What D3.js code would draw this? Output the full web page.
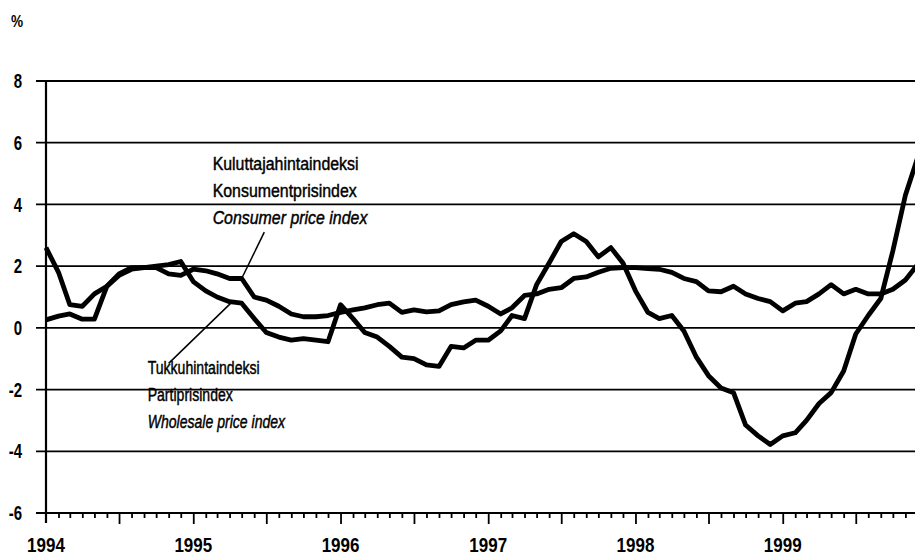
<!DOCTYPE html>
<html>
<head>
<meta charset="utf-8">
<script src="https://cdn.jsdelivr.net/npm/d3@7"></script>
<style>
  body { margin: 0; background: #fff; }
  svg { display: block; }
  text { font-family: "Liberation Sans", Arial, sans-serif; fill: #000; }
</style>
</head>
<body>
<div id="chart"></div>
<script>
// monthly values, Jan 1994 .. Dec 1999 (12-month change, %)
const startYear = 1994;
const cpi = [
  0.26, 0.38, 0.45, 0.28, 0.28, 1.35, 1.7, 1.9, 1.95, 1.95, 1.75, 1.7,
  1.9, 1.85, 1.75, 1.6, 1.6, 1.0, 0.9, 0.7, 0.45, 0.36, 0.36, 0.4,
  0.5, 0.58, 0.65, 0.75, 0.8, 0.5, 0.58, 0.52, 0.55, 0.75, 0.84, 0.9,
  0.7, 0.45, 0.65, 1.05, 1.1, 1.25, 1.3, 1.6, 1.65, 1.8, 1.93, 1.95,
  1.95, 1.92, 1.9, 1.8, 1.6, 1.5, 1.2, 1.17, 1.35, 1.1, 0.95, 0.85,
  0.55, 0.8, 0.85, 1.1, 1.4, 1.1, 1.25, 1.1, 1.1, 1.25, 1.55, 2.05
];
const wpi = [
  2.6, 1.8, 0.75, 0.7, 1.1, 1.35, 1.75, 1.95, 1.95, 2.0, 2.05, 2.15,
  1.5, 1.2, 1.0, 0.85, 0.8, 0.3, -0.15, -0.3, -0.4, -0.35, -0.4, -0.45,
  0.75, 0.3, -0.15, -0.3, -0.6, -0.95, -1.0, -1.2, -1.25, -0.6, -0.65, -0.4,
  -0.4, -0.1, 0.4, 0.3, 1.4, 2.1, 2.8, 3.05, 2.8, 2.3, 2.6, 2.1,
  1.2, 0.5, 0.3, 0.4, -0.1, -0.95, -1.55, -1.95, -2.1, -3.15, -3.5, -3.78,
  -3.5, -3.4, -3.0, -2.45, -2.1, -1.4, -0.2, 0.4, 0.95, 2.5, 4.3, 5.5
];
const yTicks = [8, 6, 4, 2, 0, -2, -4, -6];
const yearLabels = ["1994", "1995", "1996", "1997", "1998", "1999"];
const cpiLabel = ["Kuluttajahintaindeksi", "Konsumentprisindex", "Consumer price index"];
const wpiLabel = ["Tukkuhintaindeksi", "Partiprisindex", "Wholesale price index"];

const width = 915, height = 555;
const margin = { top: 81, left: 46, bottom: 42 };

const svg = d3.select("#chart").append("svg")
  .attr("width", width)
  .attr("height", height);

const x = d3.scaleTime()
  .domain([new Date(startYear, 0, 1), new Date(startYear + 6, 0, 1)])
  .range([margin.left, 930]);

const y = d3.scaleLinear()
  .domain([-6, 8])
  .range([height - margin.bottom, margin.top]);

const month = i => new Date(startYear, i, 1);

// horizontal grid lines (also the ticks left of the axis)
svg.append("g")
  .selectAll("line")
  .data(yTicks)
  .join("line")
    .attr("x1", margin.left - 10)
    .attr("x2", width)
    .attr("y1", d => y(d))
    .attr("y2", d => y(d))
    .attr("stroke", "#000")
    .attr("stroke-width", d => d === -6 ? 2.2 : 1.8);

svg.append("g")
  .selectAll("text")
  .data(yTicks)
  .join("text")
    .attr("transform", d => `translate(22,${y(d)}) scale(0.75,1)`)
    .attr("dy", "0.36em")
    .attr("text-anchor", "end")
    .attr("font-size", 20)
    .attr("font-weight", "bold")
    .text(d => d);

svg.append("text")
  .attr("transform", "translate(11,27) scale(0.8,1)")
  .attr("font-size", 17)
  .attr("font-weight", "bold")
  .text("%");

// y axis line
svg.append("line")
  .attr("x1", margin.left).attr("x2", margin.left)
  .attr("y1", y(8)).attr("y2", y(-6) + 10)
  .attr("stroke", "#000")
  .attr("stroke-width", 2.2);

// month ticks on the bottom axis
const months = d3.range(1, 72).map(month);
const xAxis = d3.axisBottom(x)
  .tickValues(months)
  .tickSize(5)
  .tickFormat("");

const gx = svg.append("g")
  .attr("transform", `translate(0,${y(-6)})`)
  .call(xAxis);
gx.select(".domain").remove();
gx.selectAll(".tick line")
  .attr("stroke-width", 1.8)
  .attr("y2", d => d.getMonth() % 6 === 0 ? 11 : 5);

svg.append("g")
  .selectAll("text")
  .data(yearLabels)
  .join("text")
    .attr("transform", d => `translate(${x(new Date(+d, 0, 1))},552) scale(0.85,1)`)
    .attr("text-anchor", "middle")
    .attr("font-size", 20)
    .attr("font-weight", "bold")
    .text(d => d);

// series
const line = d3.line()
  .x((d, i) => x(month(i)))
  .y(d => y(d));

svg.append("path")
  .attr("d", line(wpi))
  .attr("fill", "none")
  .attr("stroke", "#000")
  .attr("stroke-width", 4.8)
  .attr("stroke-linejoin", "round");

svg.append("path")
  .attr("d", line(cpi))
  .attr("fill", "none")
  .attr("stroke", "#000")
  .attr("stroke-width", 4.8)
  .attr("stroke-linejoin", "round");

// annotations
function label(lines, date, value, sx) {
  const g = svg.append("g")
    .attr("transform", `translate(${x(date)},${y(value)}) scale(${sx},1)`);
  g.selectAll("text")
    .data(lines)
    .join("text")
      .attr("y", (d, i) => i * 27)
      .attr("font-size", 18.5)
      .attr("stroke", "#000")
      .attr("stroke-width", 0.45)
      .attr("font-style", (d, i) => i === 2 ? "italic" : "normal")
      .text(d => d);
}

label(cpiLabel, new Date(1995, 1, 18), 5.1, 0.86);
label(wpiLabel, new Date(1994, 8, 10), -1.5, 0.76);

// pointer lines
svg.append("line")
  .attr("x1", x(new Date(1995, 6, 1)) - 2).attr("y1", y(3.1))
  .attr("x2", x(month(16))).attr("y2", y(cpi[16]))
  .attr("stroke", "#000").attr("stroke-width", 1.5);

svg.append("line")
  .attr("x1", x(new Date(1994, 10, 1))).attr("y1", y(-1.15))
  .attr("x2", x(new Date(1995, 3, 8))).attr("y2", y(0.85))
  .attr("stroke", "#000").attr("stroke-width", 1.5);
</script>
</body>
</html>
